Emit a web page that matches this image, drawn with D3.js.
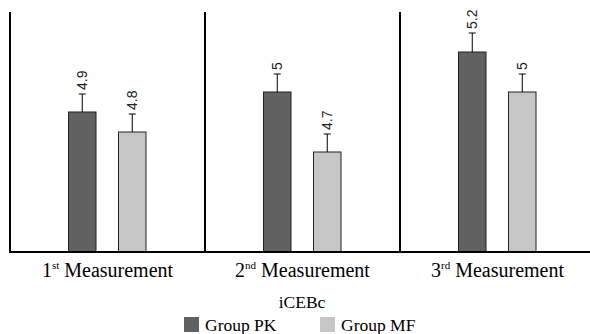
<!DOCTYPE html>
<html lang="en">
<head>
<meta charset="utf-8">
<script src="https://d3js.org/d3.v7.min.js"></script>
<style>
  body { margin: 0; background: #fff; }
  svg { display: block; }
  .serif { font-family: "Liberation Serif", "Times New Roman", serif; }
  .val { font-family: "Liberation Sans", Arial, sans-serif; font-size: 14px; }
</style>
</head>
<body>
<div id="chart"></div>
<script>
// data
var measurements = ["1", "2", "3"];
var suffixes = ["st", "nd", "rd"];
var groups = ["Group PK", "Group MF"];
var pkValues = [4.9, 5.0, 5.2];
var mfValues = [4.8, 4.7, 5.0];
var pkErrors = [0.09, 0.09, 0.095];
var mfErrors = [0.09, 0.09, 0.09];
var colors = ["#616161", "#c6c6c6"];

var width = 590, height = 334;

var svg = d3.select("#chart").append("svg")
    .attr("width", width)
    .attr("height", height);

var x = d3.scaleBand().domain(measurements).range([10, 595]).padding(0);
var xi = d3.scaleBand().domain(groups).range([58.5, 136]).paddingInner(0.45).paddingOuter(0);
var y = d3.scaleLinear().domain([4.2, 5.4]).range([252, 12]);

var rows = [];
measurements.forEach(function(m, i) {
  rows.push({m: m, g: groups[0], v: pkValues[i], e: pkErrors[i], c: colors[0]});
  rows.push({m: m, g: groups[1], v: mfValues[i], e: mfErrors[i], c: colors[1]});
});

// bars
svg.append("g").selectAll("rect")
  .data(rows).enter().append("rect")
    .attr("x", function(d) { return x(d.m) + xi(d.g); })
    .attr("y", function(d) { return y(d.v); })
    .attr("width", xi.bandwidth())
    .attr("height", function(d) { return y(4.2) - y(d.v); })
    .attr("fill", function(d) { return d.c; })
    .attr("stroke", "#222")
    .attr("stroke-width", 1);

// error bars
var eb = svg.append("g").selectAll("g")
  .data(rows).enter().append("g")
    .attr("transform", function(d) { return "translate(" + (x(d.m) + xi(d.g) + xi.bandwidth() / 2) + ",0)"; });
eb.append("line")
    .attr("y1", function(d) { return y(d.v); })
    .attr("y2", function(d) { return y(d.v + d.e); })
    .attr("stroke", "#000");
eb.append("line")
    .attr("x1", -3.5).attr("x2", 3.5)
    .attr("y1", function(d) { return y(d.v + d.e); })
    .attr("y2", function(d) { return y(d.v + d.e); })
    .attr("stroke", "#000");
eb.append("text")
    .attr("class", "val")
    .attr("transform", function(d) { return "translate(0," + (y(d.v + d.e) - 4) + ") rotate(-90)"; })
    .attr("dy", "0.35em")
    .attr("fill", "#222")
    .text(function(d) { return d3.format("")(d.v); });

// axis lines
svg.append("g").selectAll("line")
  .data(measurements).enter().append("line")
    .attr("x1", function(d) { return x(d); })
    .attr("x2", function(d) { return x(d); })
    .attr("y1", 12).attr("y2", 252)
    .attr("stroke", "#000").attr("stroke-width", 2);
svg.append("line")
    .attr("x1", 9).attr("x2", 590)
    .attr("y1", 252).attr("y2", 252)
    .attr("stroke", "#000").attr("stroke-width", 2);

// category labels
var lab = svg.append("g").selectAll("text")
  .data(measurements).enter().append("text")
    .attr("class", "serif")
    .attr("x", function(d) { return x(d) + x.bandwidth() / 2; })
    .attr("y", 277)
    .attr("text-anchor", "middle")
    .attr("font-size", 20);
lab.append("tspan").text(function(d) { return d; });
lab.append("tspan").attr("font-size", 11).attr("dy", -8).text(function(d, i) { return suffixes[i]; });
lab.append("tspan").attr("dy", 8).text(" Measurement");

// legend
svg.append("text")
    .attr("class", "serif")
    .attr("x", 302).attr("y", 308)
    .attr("text-anchor", "middle")
    .attr("font-size", 17.5)
    .text("iCEBc");
var legX = [184, 320];
var leg = svg.append("g").selectAll("g")
  .data(groups).enter().append("g")
    .attr("transform", function(d, i) { return "translate(" + legX[i] + ",317)"; });
leg.append("rect")
    .attr("width", 15).attr("height", 15)
    .attr("fill", function(d, i) { return colors[i]; });
leg.append("text")
    .attr("class", "serif")
    .attr("x", 21).attr("y", 13.5)
    .attr("font-size", 17.5)
    .text(function(d) { return d; });
</script>
</body>
</html>
